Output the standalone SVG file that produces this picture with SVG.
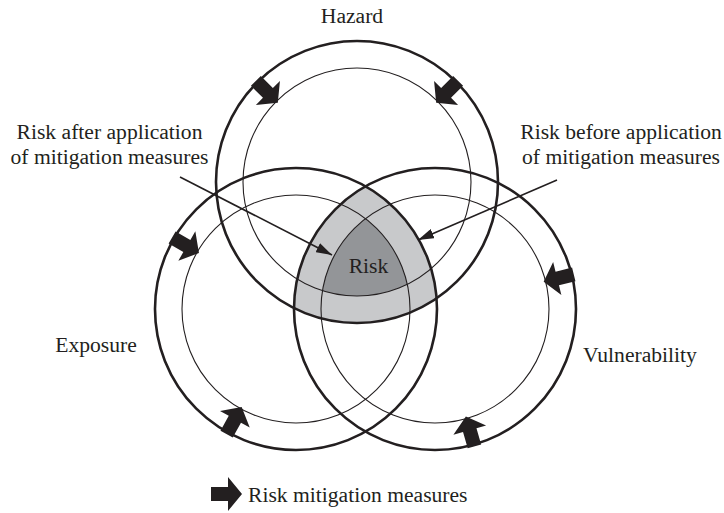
<svg xmlns="http://www.w3.org/2000/svg" width="724" height="513" viewBox="0 0 724 513">
  <style>
    .outer { fill: none; stroke: #231f20; stroke-width: 2.6; }
    .inner { fill: none; stroke: #231f20; stroke-width: 1.1; }
    .lbl { font-family: "Liberation Serif", "Times New Roman", serif; font-size: 21.6px; fill: #231f20; }
    .mid { text-anchor: middle; }
    .lead { stroke: #231f20; stroke-width: 1.6; fill: none; marker-end: url(#head); }
    .blk { fill: #231f20; }
  </style>
  <defs>
    <marker id="head" viewBox="0 0 16 10" refX="16" refY="5" markerWidth="16" markerHeight="10" markerUnits="userSpaceOnUse" orient="auto">
      <path d="M0,0 L16,5 L0,10 Z" fill="#231f20"/>
    </marker>
    <!-- block arrow pointing along +x, centred on the ring -->
    <polygon id="mit" points="-15,-7 2,-7 2,-17 16,0 2,17 2,7 -15,7"/>
    <clipPath id="clipEo"><circle cx="296" cy="309" r="141"/></clipPath>
    <clipPath id="clipVo"><circle cx="435" cy="309" r="141"/></clipPath>
    <clipPath id="clipEi"><circle cx="296" cy="309" r="114"/></clipPath>
    <clipPath id="clipVi"><circle cx="435" cy="309" r="114"/></clipPath>
  </defs>

  <!-- shared region of the three sets -->
  <g id="risk-zone">
    <g clip-path="url(#clipEo)">
      <g clip-path="url(#clipVo)">
        <circle cx="357" cy="182" r="141" fill="#c8c9cb"/>
      </g>
    </g>
    <g clip-path="url(#clipEi)">
      <g clip-path="url(#clipVi)">
        <circle cx="357" cy="182" r="114" fill="#939598"/>
      </g>
    </g>
    <text class="lbl mid" x="368.5" y="273">Risk</text>
  </g>

  <g id="hazard">
    <circle class="outer" cx="357" cy="182" r="141"/>
    <circle class="inner" cx="357" cy="182" r="114"/>
    <use href="#mit" class="blk" transform="translate(266.5,91.5) rotate(45)"/>
    <use href="#mit" class="blk" transform="translate(447.5,91.5) rotate(135)"/>
    <text class="lbl mid" x="352" y="23">Hazard</text>
  </g>

  <g id="exposure">
    <circle class="outer" cx="296" cy="309" r="141"/>
    <circle class="inner" cx="296" cy="309" r="114"/>
    <use href="#mit" class="blk" transform="translate(185.1,245) rotate(30)"/>
    <use href="#mit" class="blk" transform="translate(233.9,421) rotate(-61)"/>
    <text class="lbl mid" x="96" y="352">Exposure</text>
  </g>

  <g id="vulnerability">
    <circle class="outer" cx="435" cy="309" r="141"/>
    <circle class="inner" cx="435" cy="309" r="114"/>
    <use href="#mit" class="blk" transform="translate(559.2,278) rotate(166)"/>
    <use href="#mit" class="blk" transform="translate(470.3,432) rotate(-106)"/>
    <text class="lbl" x="583" y="362">Vulnerability</text>
  </g>

  <g id="connectors">
    <line class="lead" x1="180" y1="177" x2="332" y2="255"/>
    <line class="lead" x1="557" y1="180" x2="418" y2="240"/>
  </g>

  <g id="label-after">
    <text class="lbl mid" x="109.5" y="139">Risk after application</text>
    <text class="lbl mid" x="109.5" y="164">of mitigation measures</text>
  </g>

  <g id="label-before">
    <text class="lbl mid" x="621" y="139">Risk before application</text>
    <text class="lbl mid" x="621" y="164">of mitigation measures</text>
  </g>

  <g id="legend">
    <use href="#mit" class="blk" transform="translate(226,494)"/>
    <text class="lbl" x="248" y="502">Risk mitigation measures</text>
  </g>
</svg>
